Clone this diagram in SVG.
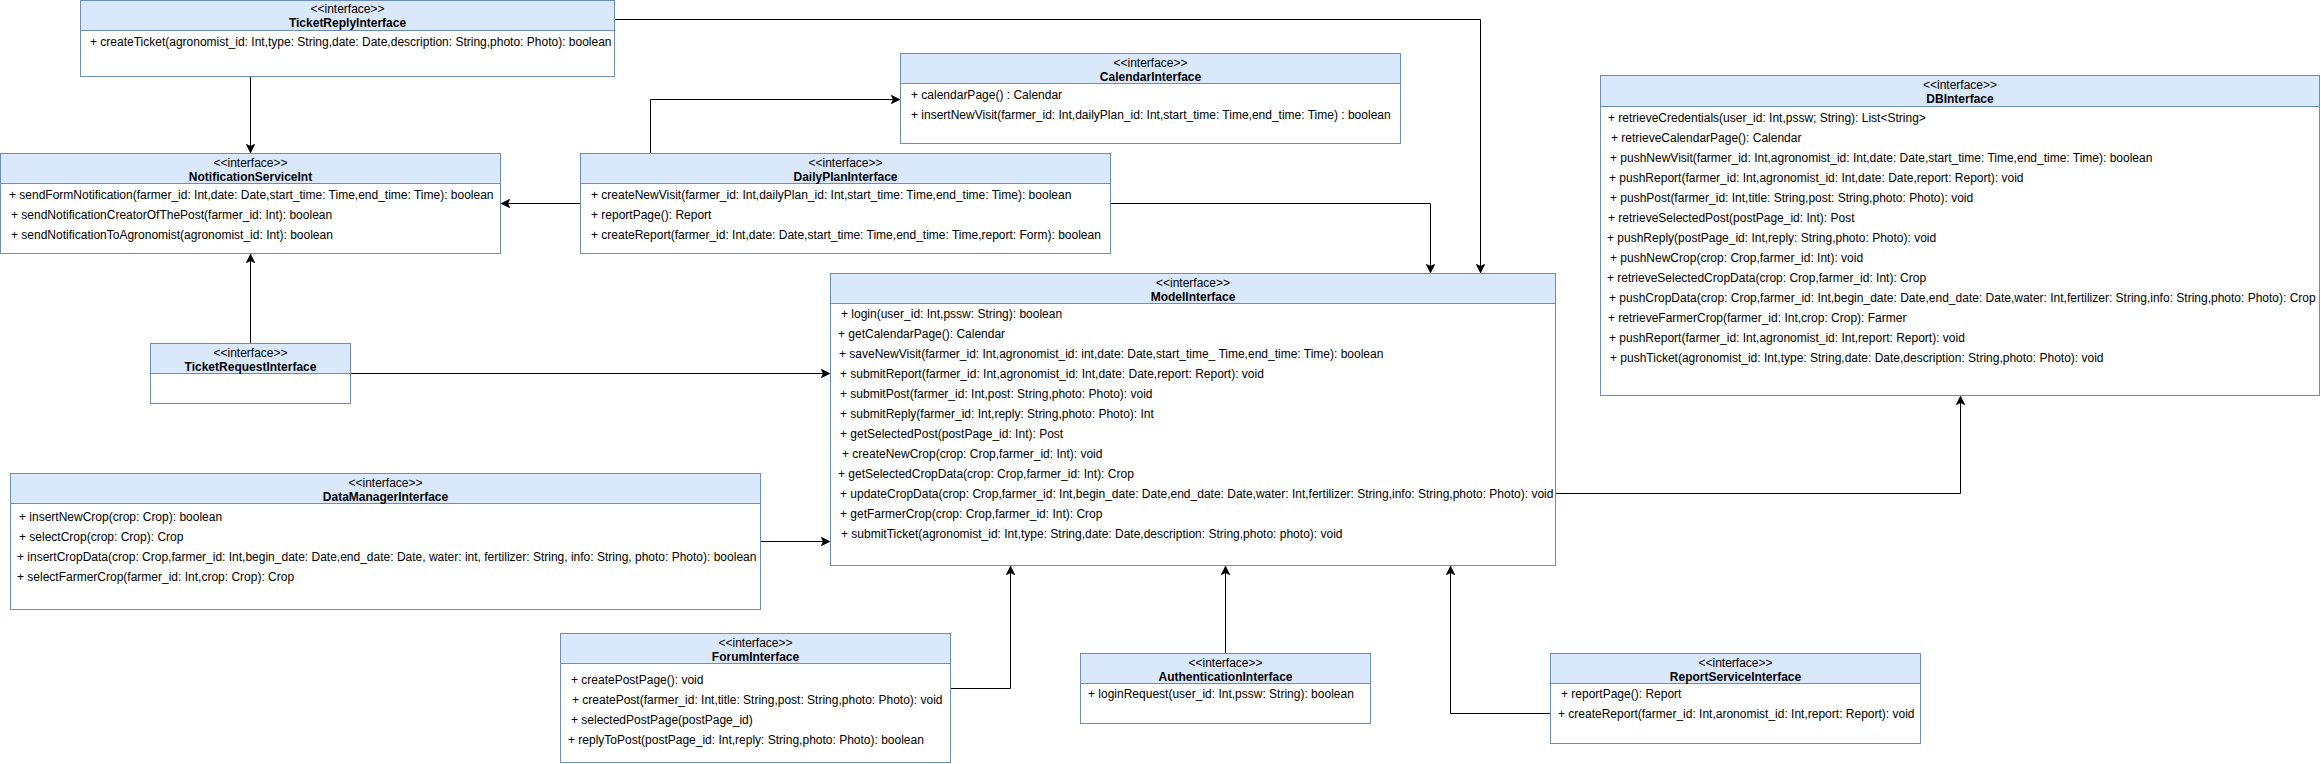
<svg xmlns="http://www.w3.org/2000/svg" width="2321" height="764" viewBox="0 0 2321 764">
<style>
.box{fill:#ffffff;stroke:#6c8ebf;stroke-width:1}
.hdr{fill:#dae8fc;stroke:#6c8ebf;stroke-width:1}
text{font-family:"Liberation Sans",Arial,Helvetica,sans-serif;font-size:12px;fill:#000000}
.st{text-anchor:middle}
.nm{text-anchor:middle;font-weight:bold}
.edge{fill:none;stroke:#000000;stroke-width:1}
</style>
<defs>
<marker id="arr" viewBox="-10 -5 11 10" markerWidth="11" markerHeight="10" refX="0" refY="0" orient="auto" markerUnits="userSpaceOnUse">
<path d="M-8,-4 L0,0 L-8,4 L-6,0 Z" fill="#000000" stroke="#000000" stroke-width="1" stroke-linejoin="miter"/>
</marker>
</defs>
<rect width="2321" height="764" fill="#ffffff"/>

<g id="connectors">
<path class="edge" d="M250.5,76.5 L250.5,152.5" marker-end="url(#arr)"/>
<path class="edge" d="M614.5,19.5 L1480.5,19.5 L1480.5,272.5" marker-end="url(#arr)"/>
<path class="edge" d="M650.5,153.5 L650.5,99.5 L899.5,99.5" marker-end="url(#arr)"/>
<path class="edge" d="M580.5,203.5 L501.5,203.5" marker-end="url(#arr)"/>
<path class="edge" d="M1110.5,203.5 L1430.5,203.5 L1430.5,272.5" marker-end="url(#arr)"/>
<path class="edge" d="M250.5,343.5 L250.5,254.5" marker-end="url(#arr)"/>
<path class="edge" d="M350.5,373.5 L829.5,373.5" marker-end="url(#arr)"/>
<path class="edge" d="M760.5,541.5 L829.5,541.5" marker-end="url(#arr)"/>
<path class="edge" d="M1555.5,493.5 L1960.5,493.5 L1960.5,396.5" marker-end="url(#arr)"/>
<path class="edge" d="M950.5,688.5 L1010.5,688.5 L1010.5,566.5" marker-end="url(#arr)"/>
<path class="edge" d="M1225.5,653.5 L1225.5,566.5" marker-end="url(#arr)"/>
<path class="edge" d="M1550.5,713.5 L1450.5,713.5 L1450.5,566.5" marker-end="url(#arr)"/>
</g>

<g id="TicketReplyInterface">
<rect class="box" x="80.5" y="0.5" width="534" height="76"/>
<rect class="hdr" x="80.5" y="0.5" width="534" height="30"/>
<text class="st" x="347.5" y="13">&lt;&lt;interface&gt;&gt;</text>
<text class="nm" x="347.5" y="27">TicketReplyInterface</text>
<text x="90" y="46">+ createTicket(agronomist_id: Int,type: String,date: Date,description: String,photo: Photo): boolean</text>
</g>

<g id="NotificationServiceInt">
<rect class="box" x="0.5" y="153.5" width="500" height="100"/>
<rect class="hdr" x="0.5" y="153.5" width="500" height="30"/>
<text class="st" x="250.5" y="166.5">&lt;&lt;interface&gt;&gt;</text>
<text class="nm" x="250.5" y="180.5">NotificationServiceInt</text>
<text x="9" y="198.5">+ sendFormNotification(farmer_id: Int,date: Date,start_time: Time,end_time: Time): boolean</text>
<text x="11" y="218.5">+ sendNotificationCreatorOfThePost(farmer_id: Int): boolean</text>
<text x="11" y="238.5">+ sendNotificationToAgronomist(agronomist_id: Int): boolean</text>
</g>

<g id="DailyPlanInterface">
<rect class="box" x="580.5" y="153.5" width="530" height="100"/>
<rect class="hdr" x="580.5" y="153.5" width="530" height="30"/>
<text class="st" x="845.5" y="166.5">&lt;&lt;interface&gt;&gt;</text>
<text class="nm" x="845.5" y="180.5">DailyPlanInterface</text>
<text x="591" y="198.5">+ createNewVisit(farmer_id: Int,dailyPlan_id: Int,start_time: Time,end_time: Time): boolean</text>
<text x="591" y="218.5">+ reportPage(): Report</text>
<text x="591" y="238.5">+ createReport(farmer_id: Int,date: Date,start_time: Time,end_time: Time,report: Form): boolean</text>
</g>

<g id="CalendarInterface">
<rect class="box" x="900.5" y="53.5" width="500" height="90"/>
<rect class="hdr" x="900.5" y="53.5" width="500" height="30"/>
<text class="st" x="1150.5" y="66.5">&lt;&lt;interface&gt;&gt;</text>
<text class="nm" x="1150.5" y="80.5">CalendarInterface</text>
<text x="911" y="98.5">+ calendarPage() : Calendar</text>
<text x="911" y="118.5">+ insertNewVisit(farmer_id: Int,dailyPlan_id: Int,start_time: Time,end_time: Time) : boolean</text>
</g>

<g id="DBInterface">
<rect class="box" x="1600.5" y="75.5" width="719" height="320"/>
<rect class="hdr" x="1600.5" y="75.5" width="719" height="31"/>
<text class="st" x="1960" y="89">&lt;&lt;interface&gt;&gt;</text>
<text class="nm" x="1960" y="103">DBInterface</text>
<text x="1608" y="121.5">+ retrieveCredentials(user_id: Int,pssw; String): List&lt;String&gt;</text>
<text x="1611" y="141.5">+ retrieveCalendarPage(): Calendar</text>
<text x="1610" y="161.5">+ pushNewVisit(farmer_id: Int,agronomist_id: Int,date: Date,start_time: Time,end_time: Time): boolean</text>
<text x="1609" y="181.5">+ pushReport(farmer_id: Int,agronomist_id: Int,date: Date,report: Report): void</text>
<text x="1610" y="201.5">+ pushPost(farmer_id: Int,title: String,post: String,photo: Photo): void</text>
<text x="1608" y="221.5">+ retrieveSelectedPost(postPage_id: Int): Post</text>
<text x="1607" y="241.5">+ pushReply(postPage_id: Int,reply: String,photo: Photo): void</text>
<text x="1610" y="261.5">+ pushNewCrop(crop: Crop,farmer_id: Int): void</text>
<text x="1607" y="281.5">+ retrieveSelectedCropData(crop: Crop,farmer_id: Int): Crop</text>
<text x="1609" y="301.5">+ pushCropData(crop: Crop,farmer_id: Int,begin_date: Date,end_date: Date,water: Int,fertilizer: String,info: String,photo: Photo): Crop</text>
<text x="1608" y="321.5">+ retrieveFarmerCrop(farmer_id: Int,crop: Crop): Farmer</text>
<text x="1609" y="341.5">+ pushReport(farmer_id: Int,agronomist_id: Int,report: Report): void</text>
<text x="1610" y="361.5">+ pushTicket(agronomist_id: Int,type: String,date: Date,description: String,photo: Photo): void</text>
</g>

<g id="ModelInterface">
<rect class="box" x="830.5" y="273.5" width="725" height="292"/>
<rect class="hdr" x="830.5" y="273.5" width="725" height="30"/>
<text class="st" x="1193" y="286.5">&lt;&lt;interface&gt;&gt;</text>
<text class="nm" x="1193" y="300.5">ModelInterface</text>
<text x="841" y="318">+ login(user_id: Int,pssw: String): boolean</text>
<text x="838" y="338">+ getCalendarPage(): Calendar</text>
<text x="839" y="358">+ saveNewVisit(farmer_id: Int,agronomist_id: int,date: Date,start_time_ Time,end_time: Time): boolean</text>
<text x="840" y="378">+ submitReport(farmer_id: Int,agronomist_id: Int,date: Date,report: Report): void</text>
<text x="840" y="398">+ submitPost(farmer_id: Int,post: String,photo: Photo): void</text>
<text x="840" y="418">+ submitReply(farmer_id: Int,reply: String,photo: Photo): Int</text>
<text x="840" y="438">+ getSelectedPost(postPage_id: Int): Post</text>
<text x="842" y="458">+ createNewCrop(crop: Crop,farmer_id: Int): void</text>
<text x="838" y="478">+ getSelectedCropData(crop: Crop,farmer_id: Int): Crop</text>
<text x="840" y="498">+ updateCropData(crop: Crop,farmer_id: Int,begin_date: Date,end_date: Date,water: Int,fertilizer: String,info: String,photo: Photo): void</text>
<text x="840" y="518">+ getFarmerCrop(crop: Crop,farmer_id: Int): Crop</text>
<text x="841" y="538">+ submitTicket(agronomist_id: Int,type: String,date: Date,description: String,photo: photo): void</text>
</g>

<g id="TicketRequestInterface">
<rect class="box" x="150.5" y="343.5" width="200" height="60"/>
<rect class="hdr" x="150.5" y="343.5" width="200" height="30"/>
<text class="st" x="250.5" y="356.5">&lt;&lt;interface&gt;&gt;</text>
<text class="nm" x="250.5" y="370.5">TicketRequestInterface</text>
</g>

<g id="DataManagerInterface">
<rect class="box" x="10.5" y="473.5" width="750" height="136"/>
<rect class="hdr" x="10.5" y="473.5" width="750" height="30"/>
<text class="st" x="385.5" y="486.5">&lt;&lt;interface&gt;&gt;</text>
<text class="nm" x="385.5" y="500.5">DataManagerInterface</text>
<text x="19" y="521">+ insertNewCrop(crop: Crop): boolean</text>
<text x="19" y="541">+ selectCrop(crop: Crop): Crop</text>
<text x="17" y="561">+ insertCropData(crop: Crop,farmer_id: Int,begin_date: Date,end_date: Date, water: int, fertilizer: String, info: String, photo: Photo): boolean</text>
<text x="17" y="581">+ selectFarmerCrop(farmer_id: Int,crop: Crop): Crop</text>
</g>

<g id="ForumInterface">
<rect class="box" x="560.5" y="633.5" width="390" height="129"/>
<rect class="hdr" x="560.5" y="633.5" width="390" height="30"/>
<text class="st" x="755.5" y="646.5">&lt;&lt;interface&gt;&gt;</text>
<text class="nm" x="755.5" y="660.5">ForumInterface</text>
<text x="571" y="683.5">+ createPostPage(): void</text>
<text x="572" y="703.5">+ createPost(farmer_id: Int,title: String,post: String,photo: Photo): void</text>
<text x="571" y="723.5">+ selectedPostPage(postPage_id)</text>
<text x="568" y="743.5">+ replyToPost(postPage_id: Int,reply: String,photo: Photo): boolean</text>
</g>

<g id="AuthenticationInterface">
<rect class="box" x="1080.5" y="653.5" width="290" height="70"/>
<rect class="hdr" x="1080.5" y="653.5" width="290" height="30"/>
<text class="st" x="1225.5" y="666.5">&lt;&lt;interface&gt;&gt;</text>
<text class="nm" x="1225.5" y="680.5">AuthenticationInterface</text>
<text x="1088" y="697.5">+ loginRequest(user_id: Int,pssw: String): boolean</text>
</g>

<g id="ReportServiceInterface">
<rect class="box" x="1550.5" y="653.5" width="370" height="90"/>
<rect class="hdr" x="1550.5" y="653.5" width="370" height="30"/>
<text class="st" x="1735.5" y="666.5">&lt;&lt;interface&gt;&gt;</text>
<text class="nm" x="1735.5" y="680.5">ReportServiceInterface</text>
<text x="1561" y="698">+ reportPage(): Report</text>
<text x="1558" y="717.5">+ createReport(farmer_id: Int,aronomist_id: Int,report: Report): void</text>
</g>
</svg>
